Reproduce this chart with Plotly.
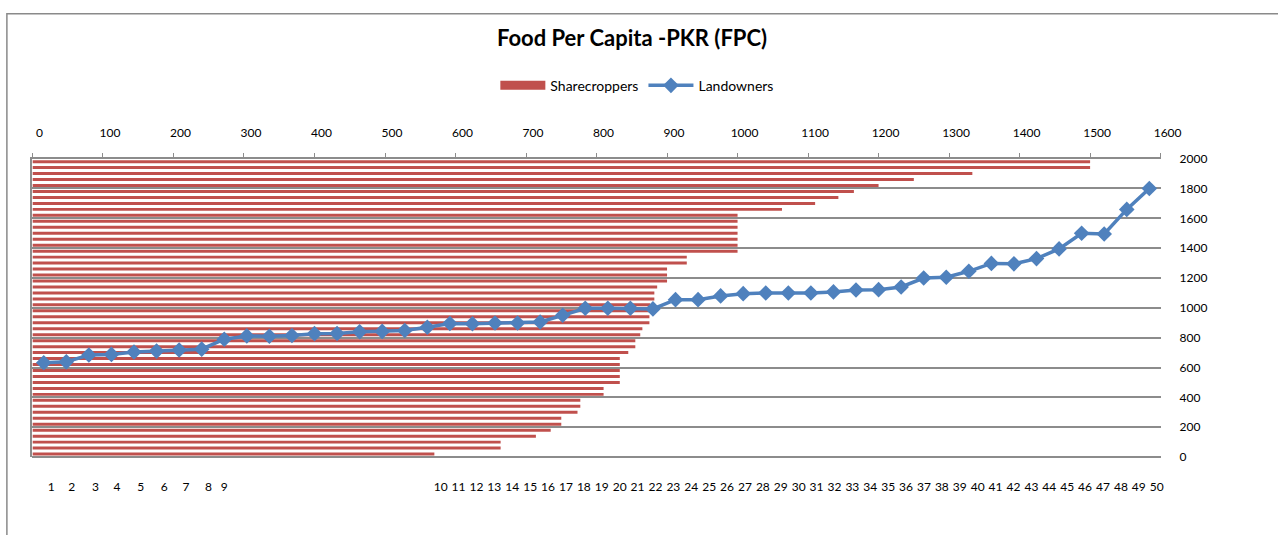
import plotly.graph_objects as go

# ---------------- data ----------------
categories = list(range(1, 51))
sharecroppers = [570, 664, 664, 714, 735, 750, 750, 773, 777, 777,
                 810, 810, 833, 833, 833, 833, 833, 845, 855, 855,
                 862, 865, 875, 875, 875, 876, 882, 882, 886, 900,
                 900, 900, 928, 928, 1000, 1000, 1000, 1000, 1000, 1000,
                 1000, 1063, 1110, 1143, 1165, 1200, 1250, 1333, 1500, 1500]
landowners = [632, 638, 684, 688, 704, 710, 717, 723, 790, 812,
              810, 815, 827, 828, 840, 842, 848, 870, 895, 893,
              898, 898, 905, 950, 997, 997, 997, 993, 1055, 1055,
              1080, 1095, 1100, 1100, 1100, 1107, 1120, 1122, 1140, 1200,
              1205, 1245, 1298, 1295, 1330, 1395, 1500, 1495, 1660, 1800]
bottom_labels = [str(c) for c in categories]
top_ticks = list(range(0, 1700, 100))
right_ticks = list(range(0, 2200, 200))

# ---------------- layout helpers ----------------
W, H = 1278, 535
px_left, px_right = 33, 1180
px_top, px_bottom = 155, 462
xdom = [px_left / W, px_right / W]
ydom = [1 - px_bottom / H, 1 - px_top / H]

# odd placement of the bottom category labels (as in the original)
label_pos = [1.33, 2.24, 3.29, 4.25, 5.30, 6.34, 7.30, 8.30, 9.00] + \
            [18.59 + k * 0.7934 for k in range(41)]

RED = "#C0504D"
BLUE = "#4F81BD"
GRID = "#8C8C8C"
FONT = "Lato"

fig = go.Figure()
fig.add_trace(go.Bar(
    x=sharecroppers, y=categories, orientation="h",
    marker=dict(color=RED, line=dict(width=0)),
    name="Sharecroppers", showlegend=False, xaxis="x", yaxis="y",
))
# legend key for the bars (wide red bar as in the original)
fig.add_trace(go.Scatter(
    x=[None], y=[None], mode="lines", line=dict(color=RED, width=9),
    name="Sharecroppers", xaxis="x", yaxis="y",
))
fig.add_trace(go.Scatter(
    x=categories, y=landowners, mode="lines+markers",
    line=dict(color=BLUE, width=3.5),
    marker=dict(symbol="diamond", size=12, color=BLUE),
    name="Landowners", xaxis="x2", yaxis="y2",
))

fig.update_layout(
    width=W, height=H, autosize=False,
    margin=dict(l=0, r=0, t=0, b=0),
    paper_bgcolor="white", plot_bgcolor="white",
    font=dict(family=FONT, size=12, color="#000000"),
    bargap=0.5,
    title=dict(text="<b>Food Per Capita -PKR (FPC)</b>",
               x=632 / W, xanchor="center", y=1 - 38 / H, yanchor="middle",
               font=dict(family=FONT, size=22, color="#000000")),
    legend=dict(orientation="h", x=648 / W, xanchor="center",
                y=1 - 80 / H, yanchor="middle", itemwidth=45,
                font=dict(family=FONT, size=14, color="#000000"),
                bgcolor="rgba(0,0,0,0)"),
    xaxis=dict(domain=xdom, anchor="y", side="top", range=[0, 1600],
               tickvals=top_ticks, ticks="outside", ticklen=4,
               tickcolor=GRID, tickwidth=1.2,
               showline=True, linecolor=GRID, linewidth=1.5,
               showgrid=False, zeroline=False,
               ticklabelstandoff=11, ticklabelshift=7, tickfont=dict(size=12)),
    yaxis=dict(domain=ydom, anchor="x", range=[0.5, 50.5],
               showticklabels=False, ticks="",
               showline=True, linecolor=GRID, linewidth=1.5,
               showgrid=False, zeroline=False),
    xaxis2=dict(domain=xdom, anchor="y2", overlaying="x", side="bottom",
                range=[0.5, 50.5], tickvals=label_pos, ticktext=bottom_labels,
                ticks="", showline=False, showgrid=False, zeroline=False,
                ticklabelstandoff=21, tickfont=dict(size=12)),
    yaxis2=dict(domain=ydom, anchor="x2", overlaying="y", side="right",
                range=[0, 2000], tickvals=right_ticks, ticks="",
                showline=False, showgrid=True, gridcolor=GRID, gridwidth=1.5,
                zeroline=True, zerolinecolor=GRID, zerolinewidth=1.5,
                ticklabelstandoff=18, tickfont=dict(size=12)),
    shapes=[dict(type="rect", xref="paper", yref="paper",
                 x0=7 / W, x1=1.05, y0=-0.05, y1=1 - 6 / H,
                 line=dict(color="#8A8A8A", width=1.5), layer="below")],
)

fig.write_html("out.html",
               post_script="document.body.style.margin='0';",
               config={"displayModeBar": False})
